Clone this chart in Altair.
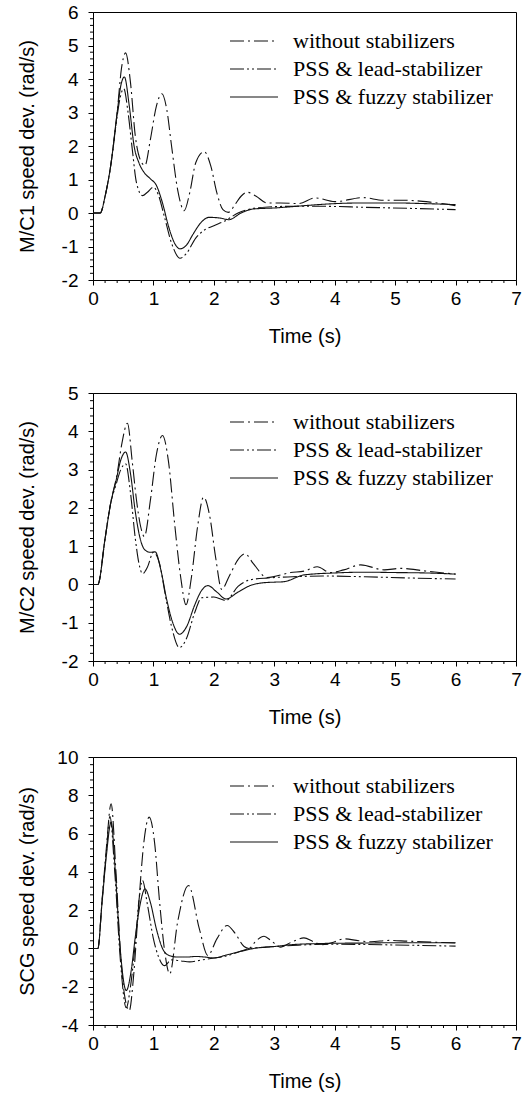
import altair as alt
import pandas as pd

SERIES = ["without stabilizers", "PSS & lead-stabilizer", "PSS & fuzzy stabilizer"]
DASHES = [[14, 4, 2, 4], [14, 3, 2, 3, 2, 3], [1, 0]]

x_major = [0, 1, 2, 3, 4, 5, 6, 7]
x_minor = [round(i * 0.2, 2) for i in range(36) if i % 5]

# ---------- Panel 1 : M/C1 ----------
t_w1 = [0, 0.12, 0.2, 0.3, 0.4, 0.47, 0.54, 0.62, 0.7, 0.78, 0.86, 0.95, 1.05, 1.14, 1.22, 1.3, 1.4, 1.51, 1.6, 1.7,
        1.84, 1.95, 2.05, 2.15, 2.24, 2.35, 2.45, 2.55, 2.7, 2.88, 3.1, 3.4, 3.68, 4.0, 4.47, 4.8, 5.15, 5.6, 6.0]
v_w1 = [0, 0, 0.5, 1.5, 3.0, 4.3, 4.78, 3.9, 2.3, 1.6, 1.42, 2.2, 3.2, 3.56, 3.1, 2.0, 0.7, 0.07, 0.6, 1.5,
        1.83, 1.4, 0.6, 0.1, 0.02, 0.25, 0.5, 0.62, 0.5, 0.3, 0.3, 0.28, 0.45, 0.34, 0.46, 0.38, 0.38, 0.32, 0.22]
t_l1 = [0, 0.12, 0.2, 0.3, 0.4, 0.45, 0.51, 0.58, 0.65, 0.72, 0.82, 0.9, 1.0, 1.08, 1.18, 1.3, 1.44, 1.55, 1.7, 1.85,
        2.0, 2.2, 2.4, 2.6, 2.9, 3.3, 3.8, 4.5, 5.2, 6.0]
v_l1 = [0, 0, 0.5, 1.5, 2.9, 3.45, 3.71, 3.0, 1.9, 0.9, 0.52, 0.62, 0.77, 0.55, -0.1, -0.9, -1.35, -1.2, -0.75, -0.5,
        -0.38, -0.22, 0.0, 0.12, 0.18, 0.2, 0.2, 0.17, 0.14, 0.1]
t_f1 = [0, 0.12, 0.2, 0.3, 0.4, 0.46, 0.52, 0.6, 0.68, 0.76, 0.85, 0.95, 1.05, 1.15, 1.25, 1.35, 1.44, 1.55, 1.65, 1.78,
        1.92, 2.1, 2.25, 2.45, 2.65, 3.0, 3.5, 4.0, 4.5, 5.0, 5.5, 6.0]
v_f1 = [0, 0, 0.5, 1.5, 3.0, 3.8, 4.06, 3.2, 2.0, 1.5, 1.2, 1.02, 0.82, 0.3, -0.4, -0.9, -1.07, -0.95, -0.65, -0.3,
        -0.13, -0.15, -0.2, 0.0, 0.12, 0.15, 0.22, 0.28, 0.3, 0.3, 0.28, 0.25]
y1_major = [-2, -1, 0, 1, 2, 3, 4, 5, 6]
y1_minor = [round(-2 + i * 0.2, 2) for i in range(41) if i % 5]

# ---------- Panel 2 : M/C2 ----------
t_w2 = [0, 0.08, 0.2, 0.29, 0.4, 0.48, 0.57, 0.65, 0.72, 0.79, 0.85, 0.95, 1.05, 1.15, 1.25, 1.35, 1.45, 1.54, 1.63, 1.73,
        1.83, 1.93, 2.03, 2.13, 2.25, 2.4, 2.52, 2.65, 2.88, 3.27, 3.5, 3.71, 3.93, 4.15, 4.43, 4.82, 5.09, 5.5, 6.0]
v_w2 = [0, 0, 1.2, 2.1, 2.9, 3.7, 4.21, 3.2, 2.2, 1.5, 1.25, 2.2, 3.4, 3.89, 3.2, 1.6, 0.2, -0.53, 0.2, 1.5,
        2.28, 1.8, 0.7, -0.13, 0.2, 0.65, 0.8, 0.55, 0.18, 0.31, 0.35, 0.46, 0.31, 0.38, 0.51, 0.38, 0.42, 0.35, 0.27]
t_l2 = [0, 0.08, 0.2, 0.29, 0.38, 0.46, 0.54, 0.62, 0.7, 0.76, 0.82, 0.9, 1.0, 1.1, 1.2, 1.3, 1.43, 1.55, 1.68, 1.8,
        2.0, 2.2, 2.4, 2.6, 2.9, 3.3, 3.8, 4.5, 5.2, 6.0]
v_l2 = [0, 0, 1.2, 2.1, 2.6, 3.0, 3.15, 2.4, 1.2, 0.55, 0.28, 0.45, 0.84, 0.55, -0.3, -1.1, -1.65, -1.4, -0.75, -0.35,
        -0.33, -0.42, -0.05, 0.12, 0.17, 0.2, 0.22, 0.2, 0.17, 0.14]
t_f2 = [0, 0.08, 0.2, 0.29, 0.38, 0.46, 0.54, 0.62, 0.7, 0.78, 0.86, 0.95, 1.03, 1.12, 1.22, 1.32, 1.43, 1.55, 1.68, 1.8,
        1.9, 2.05, 2.2, 2.4, 2.6, 2.8, 3.0, 3.15, 3.5, 4.0, 4.5, 5.0, 5.5, 6.0]
v_f2 = [0, 0, 1.2, 2.1, 2.7, 3.25, 3.46, 2.9, 1.9, 1.2, 0.9, 0.84, 0.85, 0.4, -0.4, -1.0, -1.3, -1.1, -0.55, -0.15,
        -0.03, -0.2, -0.38, -0.2, -0.03, 0.04, 0.06, 0.07, 0.25, 0.3, 0.32, 0.31, 0.3, 0.27]
y2_major = [-2, -1, 0, 1, 2, 3, 4, 5]
y2_minor = [round(-2 + i * 0.2, 2) for i in range(36) if i % 5]

# ---------- Panel 3 : SCG ----------
t_w3 = [0, 0.08, 0.15, 0.22, 0.3, 0.38, 0.46, 0.53, 0.6, 0.67, 0.75, 0.84, 0.93, 1.02, 1.1, 1.18, 1.27, 1.4, 1.58, 1.76,
        1.9, 2.05, 2.22, 2.35, 2.5, 2.58, 2.7, 2.83, 2.95, 3.1, 3.3, 3.49, 3.65, 3.8, 4.0, 4.15, 4.4, 4.6, 4.9, 5.2,
        5.6, 6.0]
v_w3 = [0, 0, 2.5, 5.2, 7.56, 4.0, -0.5, -2.6, -3.25, -1.5, 2.0, 5.5, 6.86, 5.5, 2.5, 0.0, -1.33, 1.37, 3.29, 1.02,
        -0.37, 0.5, 1.2, 0.8, 0.1, 0.0, 0.4, 0.64, 0.4, 0.07, 0.35, 0.55, 0.35, 0.2, 0.35, 0.5, 0.4, 0.35, 0.42, 0.38,
        0.33, 0.28]
t_l3 = [0, 0.08, 0.15, 0.22, 0.28, 0.36, 0.45, 0.55, 0.62, 0.7, 0.76, 0.82, 0.9, 1.0, 1.08, 1.18, 1.3, 1.45, 1.6, 1.8,
        2.0, 2.2, 2.4, 2.6, 2.8, 3.0, 3.3, 3.6, 4.0, 5.0, 6.0]
v_l3 = [0, 0, 2.5, 5.0, 6.9, 4.0, -0.5, -3.1, -2.0, 0.3, 2.5, 3.55, 2.3, 0.5, -0.4, -0.9, -0.6, -0.65, -0.7, -0.6,
        -0.5, -0.4, -0.2, 0.0, 0.05, 0.1, 0.15, 0.2, 0.22, 0.18, 0.12]
t_f3 = [0, 0.08, 0.15, 0.22, 0.3, 0.37, 0.45, 0.55, 0.63, 0.7, 0.78, 0.86, 0.95, 1.05, 1.15, 1.26, 1.4, 1.55, 1.7, 1.85,
        2.0, 2.2, 2.45, 2.7, 3.0, 3.3, 3.7, 4.0, 4.5, 5.0, 6.0]
v_f3 = [0, 0, 2.4, 4.8, 6.6, 4.0, 0.0, -2.2, -1.2, 0.6, 2.3, 3.11, 2.4, 1.0, 0.0, -0.37, -0.45, -0.45, -0.42, -0.45,
        -0.5, -0.35, -0.15, 0.02, 0.1, 0.2, 0.25, 0.27, 0.28, 0.3, 0.3]
y3_major = [-4, -2, 0, 2, 4, 6, 8, 10]
y3_minor = [round(-4 + i * 0.4, 2) for i in range(36) if i % 5]

W, H = 423, 268
FONT = "Liberation Sans"
SERIF = "Liberation Serif"


def panel(series, ymin, ymax, ymajor, yminor, ytitle):
    frames = []
    for name, (ts, vs) in zip(SERIES, series):
        frames.append(pd.DataFrame({"t": ts, "v": vs, "series": name}))
    df = pd.concat(frames, ignore_index=True)

    xs = alt.Scale(domain=[0, 7], nice=False, zero=False)
    ys = alt.Scale(domain=[ymin, ymax], nice=False, zero=False)
    xa = alt.Axis(values=x_major, title="Time (s)", tickSize=5, labelPadding=4, titlePadding=18,
                  labelFlush=False, labelFont=FONT, labelFontSize=19, titleFont=FONT, titleFontSize=20,
                  titleFontWeight="normal", labelColor="black", titleColor="black",
                  domainColor="black", tickColor="black", grid=False)
    ya = alt.Axis(values=ymajor, title=ytitle, tickSize=5, labelPadding=10, titlePadding=14,
                  minExtent=42, maxExtent=42, labelExpr="toString(datum.value)",
                  labelFont=FONT, labelFontSize=19, titleFont=FONT, titleFontSize=20,
                  titleFontWeight="normal", labelColor="black", titleColor="black",
                  domainColor="black", tickColor="black", grid=False)

    lines = alt.Chart(df).mark_line(interpolate="monotone", strokeWidth=1.1, color="#111111").encode(
        x=alt.X("t:Q", scale=xs, axis=xa),
        y=alt.Y("v:Q", scale=ys, axis=ya),
        strokeDash=alt.StrokeDash("series:N", scale=alt.Scale(domain=SERIES, range=DASHES), legend=None),
    )
    xminor = alt.Chart(pd.DataFrame({"t": x_minor})).mark_rule(color="black", strokeWidth=1).encode(
        x=alt.X("t:Q", scale=xs, axis=xa), y=alt.value(H), y2=alt.value(H + 3))
    yminor = alt.Chart(pd.DataFrame({"v": yminor})).mark_rule(color="black", strokeWidth=1).encode(
        y=alt.Y("v:Q", scale=ys, axis=ya), x=alt.value(-3), x2=alt.value(0))

    layers = [lines, xminor, yminor]
    for i, (name, dash) in enumerate(zip(SERIES, DASHES)):
        one = pd.DataFrame({"label": [name]})
        ypos = 29 + 28 * i
        layers.append(alt.Chart(one).mark_rule(color="#111111", strokeWidth=1.1, strokeDash=dash).encode(
            x=alt.value(137), x2=alt.value(185), y=alt.value(ypos)))
        layers.append(alt.Chart(one).mark_text(align="left", baseline="middle", font=SERIF, fontSize=22,
                                               color="black").encode(
            x=alt.value(200), y=alt.value(ypos), text="label:N"))
    return alt.layer(*layers).properties(width=W, height=H)


p1 = panel([(t_w1, v_w1), (t_l1, v_l1), (t_f1, v_f1)], -2, 6, y1_major, y1_minor, "M/C1 speed dev. (rad/s)")
p2 = panel([(t_w2, v_w2), (t_l2, v_l2), (t_f2, v_f2)], -2, 5, y2_major, y2_minor, "M/C2 speed dev. (rad/s)")
p3 = panel([(t_w3, v_w3), (t_l3, v_l3), (t_f3, v_f3)], -4, 10, y3_major, y3_minor, "SCG speed dev. (rad/s)")

top = alt.vconcat(p1, p2, spacing=36)
chart = alt.vconcat(top, p3, spacing=19).properties(
    padding={"left": 16, "top": 2, "right": 5, "bottom": 5},
    background="white",
).configure_view(stroke="black", strokeWidth=1).configure_axis(
    domainColor="black", tickColor="black", labelColor="black", titleColor="black",
    labelFont=FONT, titleFont=FONT, labelFontSize=19, titleFontSize=20, titleFontWeight="normal",
    grid=False, domainWidth=1, tickWidth=1
)

chart.save("out.html", embed_options={"renderer": "svg", "actions": False})
